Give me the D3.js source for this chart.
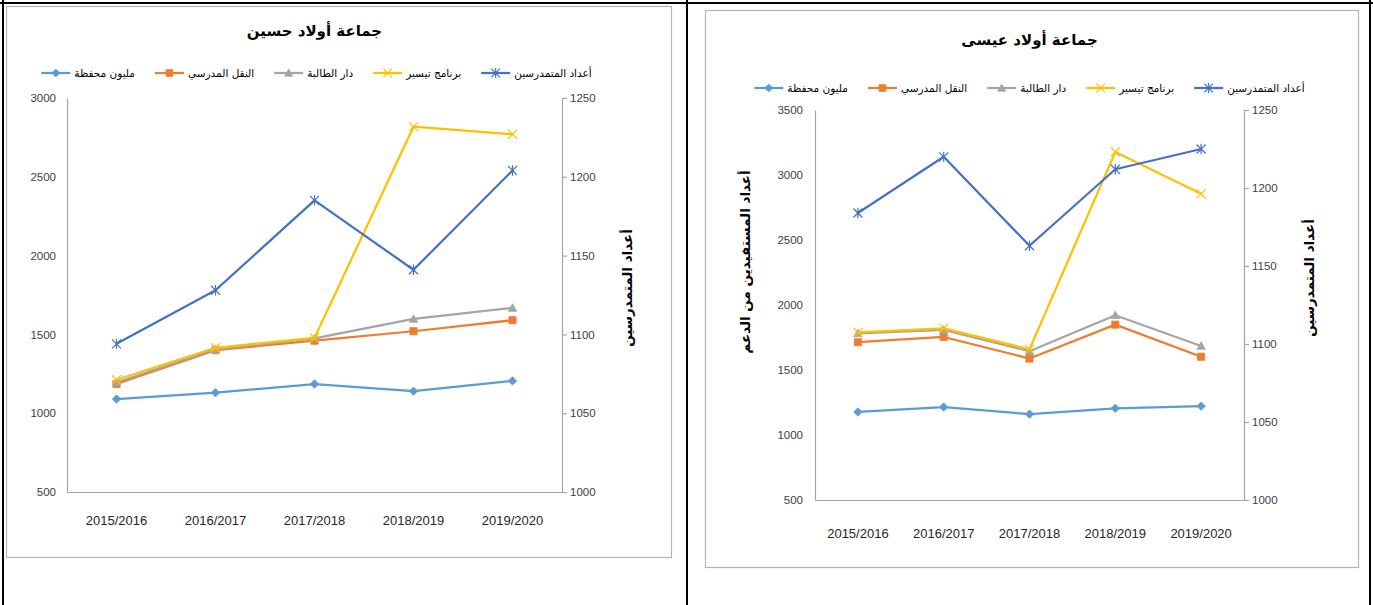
<!DOCTYPE html>
<html>
<head>
<meta charset="utf-8">
<script src="https://cdn.jsdelivr.net/npm/d3@7"></script>
<style>
  body { margin: 0; background: #fff; }
  svg { display: block; }
</style>
</head>
<body>
<svg id="page" width="1373" height="605"></svg>
<script>
// ---- data ----
const years = ["2015/2016", "2016/2017", "2017/2018", "2018/2019", "2019/2020"];
const seriesNames = ["مليون محفظة", "النقل المدرسي", "دار الطالبة", "برنامج تيسير", "أعداد المتمدرسين"];

// جماعة أولاد حسين
const hussainMillion   = [1090, 1130, 1185, 1140, 1205];
const hussainTransport = [1185, 1400, 1460, 1520, 1590];
const hussainDar       = [1195, 1405, 1475, 1598, 1668];
const hussainTaysir    = [1212, 1415, 1478, 2818, 2770];
const hussainEnrolled  = [1094, 1128, 1185, 1141, 1204];
const hussainLeftTicks  = [500, 1000, 1500, 2000, 2500, 3000];
const hussainRightTicks = [1000, 1050, 1100, 1150, 1200, 1250];

// جماعة أولاد عيسى
const aissaMillion   = [1177, 1215, 1160, 1205, 1222];
const aissaTransport = [1714, 1754, 1588, 1849, 1602];
const aissaDar       = [1782, 1808, 1644, 1921, 1685];
const aissaTaysir    = [1790, 1820, 1659, 3177, 2855];
const aissaEnrolled  = [1184, 1220, 1163, 1212, 1225];
const aissaLeftTicks  = [500, 1000, 1500, 2000, 2500, 3000, 3500];
const aissaRightTicks = [1000, 1050, 1100, 1150, 1200, 1250];

// ---- styling ----
const colors = ["#5B9BD5", "#ED7D31", "#A5A5A5", "#FFC000", "#4472C4"];
const markerKinds = ["diamond", "square", "triangle", "x", "star"];
const AXIS = "#A6A6A6";
const LABEL = "#404040";
const ARABIC = "'DejaVu Sans', sans-serif";
const LATIN = "'Liberation Sans', Arial, sans-serif";

const svg = d3.select("#page");

// outer table frame
const frame = svg.append("g").attr("stroke", "#000").attr("stroke-width", 2);
frame.append("line").attr("x1", 0).attr("x2", 1373).attr("y1", 3).attr("y2", 3);
frame.append("line").attr("x1", 3).attr("x2", 3).attr("y1", 0).attr("y2", 605);
frame.append("line").attr("x1", 687).attr("x2", 687).attr("y1", 0).attr("y2", 605);
frame.append("line").attr("x1", 1370).attr("x2", 1370).attr("y1", 0).attr("y2", 605);

function markerPath(kind, s) {
  switch (kind) {
    case "diamond": return `M0,${-s}L${s},0L0,${s}L${-s},0Z`;
    case "square": return `M${-s * 0.85},${-s * 0.85}h${s * 1.7}v${s * 1.7}h${-s * 1.7}Z`;
    case "triangle": return `M0,${-s}L${s},${s * 0.8}L${-s},${s * 0.8}Z`;
    case "x": return `M${-s},${-s}L${s},${s}M${-s},${s}L${s},${-s}`;
    case "star": return `M${-s},${-s}L${s},${s}M${-s},${s}L${s},${-s}M0,${-s * 1.15}L0,${s * 1.15}`;
  }
}

function drawChart(cfg) {
  const g = svg.append("g");
  const { box, plot } = cfg;

  g.append("rect")
    .attr("x", box.x + 0.5).attr("y", box.y + 0.5)
    .attr("width", box.w).attr("height", box.h)
    .attr("fill", "#fff").attr("stroke", "#B4B4B4").attr("stroke-width", 1.2);

  // title
  g.append("text")
    .attr("x", (plot.l + plot.r) / 2).attr("y", cfg.titleY)
    .attr("text-anchor", "middle")
    .attr("font-family", ARABIC).attr("font-weight", "bold").attr("font-size", 15)
    .attr("fill", "#000")
    .text(cfg.title);

  const x = d3.scaleBand().domain(years).range([plot.l, plot.r]).paddingInner(0).paddingOuter(0);
  const cx = d => x(d) + x.bandwidth() / 2;
  const yL = d3.scaleLinear().domain(d3.extent(cfg.leftTicks)).range([plot.b, plot.t]);
  const yR = d3.scaleLinear().domain(d3.extent(cfg.rightTicks)).range([plot.b, plot.t]);

  // left axis
  const la = g.append("g").attr("transform", `translate(${plot.l},0)`)
    .call(d3.axisLeft(yL).tickValues(cfg.leftTicks).tickSize(0).tickPadding(cfg.leftPad).tickFormat(d3.format("d")));
  // right axis
  const ra = g.append("g").attr("transform", `translate(${plot.r},0)`)
    .call(d3.axisRight(yR).tickValues(cfg.rightTicks).tickSizeInner(5).tickSizeOuter(0).tickPadding(3).tickFormat(d3.format("d")));
  // category axis
  const ba = g.append("g").attr("transform", `translate(0,${plot.b})`)
    .call(d3.axisBottom(x).tickSize(0).tickPadding(cfg.catPad));

  [la, ra, ba].forEach(a => {
    a.select(".domain").attr("stroke", AXIS).attr("stroke-width", 1.2);
    a.selectAll(".tick line").attr("stroke", AXIS).attr("stroke-width", 1.2);
    a.selectAll("text").attr("font-family", LATIN).attr("fill", LABEL);
  });
  la.selectAll("text").attr("font-size", 11.5);
  ra.selectAll("text").attr("font-size", 11.5);
  ba.selectAll("text").attr("font-size", 13).attr("fill", "#262626");

  // axis titles
  cfg.axisTitles.forEach(t => {
    g.append("text")
      .attr("transform", `translate(${t.x},${t.y}) rotate(-90)`)
      .attr("text-anchor", "middle").attr("dominant-baseline", "central")
      .attr("font-family", ARABIC).attr("font-weight", "bold").attr("font-size", 13.5)
      .attr("fill", "#000")
      .text(t.text);
  });

  // series
  const line = d3.line();
  cfg.series.forEach((vals, i) => {
    const ys = i === 4 ? yR : yL;
    const pts = years.map((yr, k) => [cx(yr), ys(vals[k])]);
    const sg = g.append("g");
    sg.append("path")
      .attr("d", line(pts))
      .attr("fill", "none").attr("stroke", colors[i]).attr("stroke-width", 2.25)
      .attr("stroke-linejoin", "round").attr("stroke-linecap", "round");
    const filled = i < 3;
    sg.selectAll("path.m").data(pts).join("path")
      .attr("class", "m")
      .attr("transform", d => `translate(${d[0]},${d[1]})`)
      .attr("d", markerPath(markerKinds[i], i < 3 ? 4.2 : 4.5))
      .attr("fill", filled ? colors[i] : "none")
      .attr("stroke", colors[i]).attr("stroke-width", filled ? 0.8 : 1.2);
  });

  // legend, laid out left-to-right with the first series at the far left
  const lg = g.append("g");
  const items = seriesNames.map((name, i) => {
    const it = lg.append("g");
    it.append("line").attr("x1", 0).attr("x2", 29).attr("y1", 0).attr("y2", 0)
      .attr("stroke", colors[i]).attr("stroke-width", 2.25);
    it.append("path").attr("transform", "translate(14.5,0)")
      .attr("d", markerPath(markerKinds[i], i < 3 ? 4 : 4.3))
      .attr("fill", i < 3 ? colors[i] : "none")
      .attr("stroke", colors[i]).attr("stroke-width", i < 3 ? 0.8 : 1.2);
    const tx = it.append("text")
      .attr("y", 0).attr("dominant-baseline", "central")
      .attr("text-anchor", "middle")
      .attr("font-family", ARABIC).attr("font-size", 10.5).attr("fill", "#000")
      .text(name);
    const w = tx.node().getComputedTextLength();
    tx.attr("x", 33 + w / 2);
    return { node: it, width: 33 + w };
  });
  const gap = 20;
  const total = d3.sum(items, d => d.width) + gap * (items.length - 1);
  let cur = (plot.l + plot.r) / 2 - total / 2 + cfg.legendShift;
  items.forEach(d => {
    d.node.attr("transform", `translate(${cur},${cfg.legendY})`);
    cur += d.width + gap;
  });
}

drawChart({
  box: { x: 6, y: 6, w: 665, h: 551 },
  plot: { l: 67, r: 562, t: 98, b: 492 },
  title: "جماعة أولاد حسين",
  titleY: 36,
  legendY: 73,
  legendShift: 2,
  leftTicks: hussainLeftTicks,
  rightTicks: hussainRightTicks,
  leftPad: 11,
  catPad: 24,
  axisTitles: [{ x: 627, y: 288, text: "أعداد المتمدرسين" }],
  series: [hussainMillion, hussainTransport, hussainDar, hussainTaysir, hussainEnrolled]
});

drawChart({
  box: { x: 705, y: 10, w: 653, h: 557 },
  plot: { l: 815, r: 1244, t: 110, b: 500 },
  title: "جماعة أولاد عيسى",
  titleY: 45,
  legendY: 88,
  legendShift: 0,
  leftTicks: aissaLeftTicks,
  rightTicks: aissaRightTicks,
  leftPad: 12,
  catPad: 29,
  axisTitles: [
    { x: 745, y: 262, text: "أعداد المستفيدين من الدعم" },
    { x: 1309, y: 278, text: "أعداد المتمدرسين" }
  ],
  series: [aissaMillion, aissaTransport, aissaDar, aissaTaysir, aissaEnrolled]
});
</script>
</body>
</html>
